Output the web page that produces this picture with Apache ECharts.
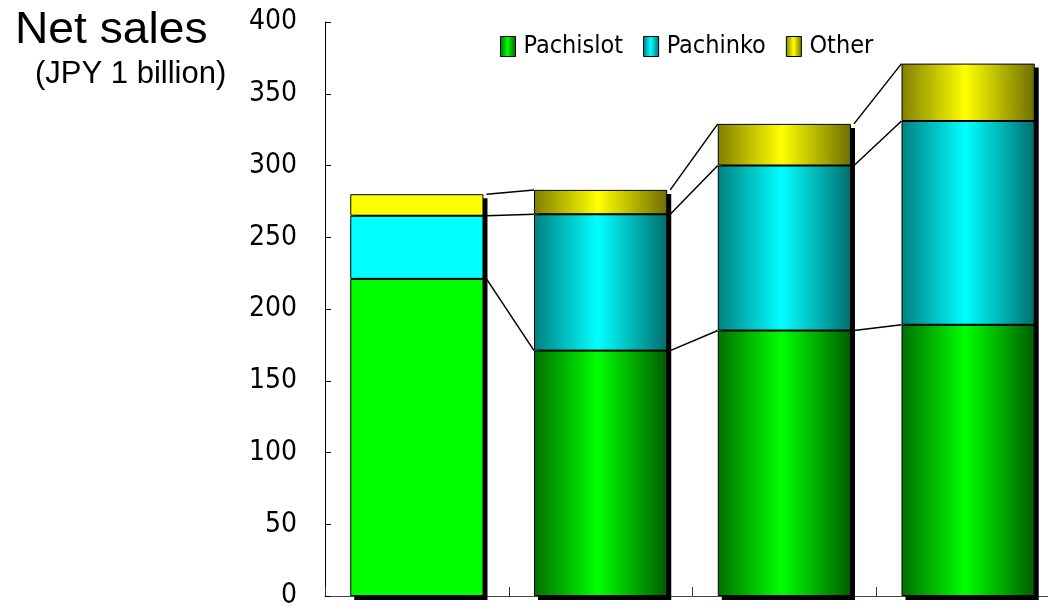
<!DOCTYPE html>
<html>
<head>
<meta charset="utf-8">
<script src="https://cdn.jsdelivr.net/npm/echarts@6/dist/echarts.min.js"></script>
<style>
  html, body { margin: 0; padding: 0; background: #fff; overflow: hidden; }
  /* the plot runs a little past the right edge of the page */
  #chart { width: 1060px; height: 610px; }
</style>
</head>
<body>
<div id="chart"></div>
<script>
// Net sales by business segment (JPY 1 billion)
const categories = ['FY1', 'FY2', 'FY3', 'FY4'];
const pachislot = [221, 171, 185, 189];
const pachinko = [44, 95, 115, 142];
const other = [15, 17, 29, 40];
const yTicks = { min: 0, max: 400, interval: 50 };

const NARROW = '"Liberation Sans Narrow", "Arial Narrow", "DejaVu Sans Condensed", sans-serif';
const SANS = '"Liberation Sans", Arial, sans-serif';
const BAR_RATIO = 0.725;

function cylinder(edgeL, mid, edgeR) {
  return new echarts.graphic.LinearGradient(0, 0, 1, 0, [
    { offset: 0, color: edgeL },
    { offset: 0.48, color: mid },
    { offset: 1, color: edgeR }
  ]);
}

const segments = [
  { name: 'Pachislot', values: pachislot, flat: '#00ff00', grad: cylinder('#007000', '#00ff00', '#005c00') },
  { name: 'Pachinko', values: pachinko, flat: '#00ffff', grad: cylinder('#008080', '#00ffff', '#006e6e') },
  { name: 'Other', values: other, flat: '#ffff00', grad: cylinder('#808000', '#ffff00', '#6e6e00') }
];

// cumulative tops of each stacked level
const levels = [];
let running = categories.map(() => 0);
segments.forEach(s => {
  running = running.map((r, i) => r + s.values[i]);
  levels.push(running.slice());
});
const totals = levels[levels.length - 1];

// connector segments: [fromIndex, fromValue, toValue]
const connectors = [];
levels.forEach(lv => {
  for (let i = 0; i < lv.length - 1; i++) connectors.push([i, lv[i], lv[i + 1]]);
});

const barSeries = segments.map(s => ({
  name: s.name,
  type: 'bar',
  stack: 'sales',
  barWidth: (BAR_RATIO * 100) + '%',
  z: 3,
  itemStyle: { color: s.grad, borderColor: '#000', borderWidth: 1 },
  emphasis: { disabled: true },
  data: s.values.map((v, i) => i === 0
    ? { value: v, itemStyle: { color: s.flat } }
    : v)
}));

// hard drop shadow behind each full stack
const shadowSeries = {
  type: 'custom',
  name: 'shadow',
  z: 1,
  silent: true,
  clip: false,
  data: totals.map((t, i) => [i, t]),
  encode: { x: 0, y: 1 },
  renderItem: function (params, api) {
    const i = api.value(0);
    const top = api.coord([i, api.value(1)]);
    const base = api.coord([i, 0]);
    const half = api.size([1, 0])[0] * BAR_RATIO / 2;
    return {
      type: 'rect',
      shape: { x: top[0] - half + 4, y: top[1] + 4, width: half * 2, height: base[1] - top[1] },
      style: { fill: '#000' }
    };
  }
};

const connectorSeries = {
  type: 'custom',
  name: 'connectors',
  z: 6,
  silent: true,
  data: connectors,
  encode: { x: 0, y: 1 },
  renderItem: function (params, api) {
    const i = api.value(0);
    const a = api.coord([i, api.value(1)]);
    const b = api.coord([i + 1, api.value(2)]);
    const half = api.size([1, 0])[0] * BAR_RATIO / 2;
    return {
      type: 'line',
      shape: { x1: a[0] + half + 3, y1: a[1], x2: b[0] - half, y2: b[1] },
      style: { stroke: '#000', lineWidth: 1.5 }
    };
  }
};

const chart = echarts.init(document.getElementById('chart'), null, { renderer: 'canvas' });
chart.setOption({
  animation: false,
  backgroundColor: '#fff',
  grid: { left: 325, right: 0, top: 22, bottom: 12, containLabel: false },
  legend: {
    left: 495,
    top: 29,
    icon: 'rect',
    itemWidth: 15,
    itemHeight: 20,
    itemGap: 20,
    textStyle: { fontFamily: NARROW, fontSize: 25, color: '#000', padding: [0, 0, 0, 3] },
    itemStyle: { borderColor: '#000', borderWidth: 1 },
    data: segments.map(s => s.name)
  },
  xAxis: {
    type: 'category',
    data: categories,
    axisLine: { lineStyle: { color: '#444', width: 1 } },
    axisTick: { show: true, inside: true, length: 9, lineStyle: { color: '#333' } },
    axisLabel: { show: false },
    splitLine: { show: false }
  },
  yAxis: {
    type: 'value',
    min: yTicks.min,
    max: yTicks.max,
    interval: yTicks.interval,
    axisLine: { show: true, lineStyle: { color: '#000', width: 1 } },
    axisTick: { show: true, inside: true, length: 6, lineStyle: { color: '#000' } },
    axisLabel: { fontFamily: NARROW, fontSize: 28, color: '#000', margin: 28 },
    splitLine: { show: false }
  },
  graphic: [
    {
      type: 'text', left: 15, top: 9, scaleX: 1.05,
      style: { text: 'Net sales', font: '44px ' + SANS, fill: '#000' }
    },
    {
      type: 'text', left: 35, top: 59,
      style: { text: '(JPY 1 billion)', font: '31px ' + SANS, fill: '#000' }
    }
  ],
  series: [shadowSeries].concat(barSeries, [connectorSeries])
});
</script>
</body>
</html>
